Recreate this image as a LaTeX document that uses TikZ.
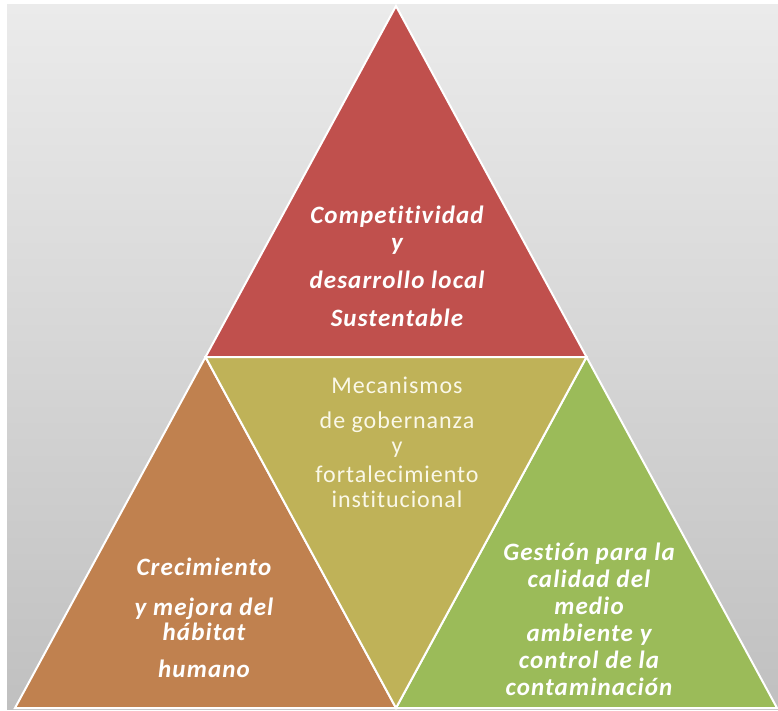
\documentclass[tikz,border=0pt]{standalone}
\usepackage{fontspec}
\setmainfont{Carlito}[Ligatures=NoCommon]
\usetikzlibrary{positioning}
\definecolor{pirred}{RGB}{192,80,77}
\definecolor{pirorange}{RGB}{192,129,79}
\definecolor{pirolive}{RGB}{191,178,88}
\definecolor{pirgreen}{RGB}{155,187,89}
\definecolor{pircream}{RGB}{250,248,232}
\definecolor{bgtop}{RGB}{235,235,235}
\definecolor{bgbot}{RGB}{192,192,192}
\tikzset{
  tri/.style={fill=#1, draw=white, line width=2pt},
  lbl/.style={text=white, align=center, inner sep=0pt,
              font=\fontsize{25}{27}\selectfont\bfseries\itshape\addfontfeatures{LetterSpace=4.5}},
  midlbl/.style={text=pircream, align=center, inner sep=0pt,
                 font=\fontsize{24}{27}\selectfont\addfontfeatures{LetterSpace=4}},
}

\begin{document}
\begin{tikzpicture}[x=1pt, y=-1pt]
  \useasboundingbox (0,0) rectangle (778,711);
  \shade[top color=bgtop, bottom color=bgbot] (7,5) rectangle (778,709);

  % corners of the pyramid
  \coordinate (apex) at (396,6);
  \coordinate (midl) at (205.5,357);
  \coordinate (midr) at (586.5,357);
  \coordinate (botl) at (15,708);
  \coordinate (botm) at (396,708);
  \coordinate (botr) at (777,708);

  \draw[tri=pirred] (apex) -- (midr) -- (midl) -- cycle;
  \draw[tri=pirorange] (midl) -- (botm) -- (botl) -- cycle;
  \draw[tri=pirgreen] (midr) -- (botr) -- (botm) -- cycle;
  \draw[tri=pirolive] (midl) -- (midr) -- (botm) -- cycle;

  % labels, anchored on the baseline of their last line
  \node[lbl, anchor=base] (comp) at (397,326)
       {Competitividad\\ y\\[11pt] desarrollo local\\[11pt] Sustentable};
  \node[midlbl, anchor=base] (meca) at (397,507)
       {Mecanismos\\[8pt] de gobernanza\\[-2pt] y\\[2pt] fortalecimiento\\[-2pt] institucional};
  \node[lbl, anchor=base] (crec) at (204,677)
       {Crecimiento\\[13pt] y mejora del\\[-2pt] hábitat\\[10pt] humano};
  \node[lbl, anchor=base] (gest) at (589,695)
       {Gestión para la\\ calidad del\\ medio\\ ambiente y\\ control de la\\ contaminación};
\end{tikzpicture}
\end{document}
